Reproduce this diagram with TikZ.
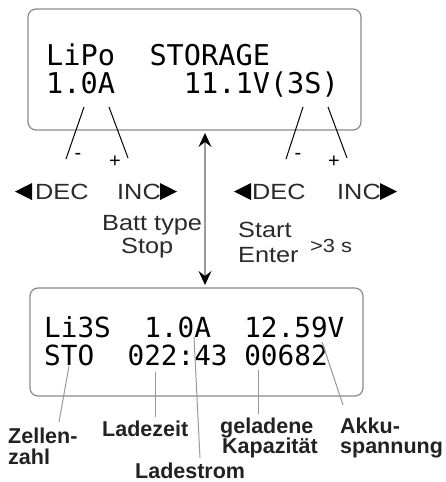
\documentclass[tikz,border=0pt]{standalone}
\usepackage{fontspec}
\setmainfont{Liberation Sans}
\newfontfamily\lcdfont{DejaVu Sans Mono}
\newfontfamily\wsans[FakeStretch=1.15]{Liberation Sans}
\newfontfamily\lblfont{Liberation Sans}
\usetikzlibrary{arrows.meta}
\definecolor{boxgray}{HTML}{8A8A8A}
\definecolor{txtgray}{HTML}{2A2A2A}
\definecolor{linegray}{HTML}{9A9A9A}
\definecolor{lblcol}{HTML}{222222}
\tikzset{
  lcdbox/.style={draw=boxgray, line width=1.2pt, rounded corners=8pt, inner sep=0pt},
  lcdtop/.style={anchor=base west, inner sep=0pt, font=\lcdfont\fontsize{28.6}{28.6}\selectfont},
  lcdbot/.style={anchor=base west, inner sep=0pt, font=\lcdfont\fontsize{27.7}{27.7}\selectfont},
  keytxt/.style={anchor=base west, inner sep=0pt, text=txtgray, font=\wsans\fontsize{22}{22}\selectfont},
  smalltxt/.style={anchor=base west, inner sep=0pt, text=txtgray, font=\wsans\fontsize{19}{19}\selectfont},
  signtxt/.style={inner sep=0pt, text=black, font=\fontsize{20}{20}\selectfont},
  lbl/.style={anchor=base west, inner sep=0pt, text=lblcol, font=\lblfont\bfseries\fontsize{21.5}{21.5}\selectfont},
  leadtop/.style={draw=black, line width=1pt},
  leadbot/.style={draw=linegray, line width=1pt},
  tri/.style={fill=black},
  dblarrow/.style={draw=linegray, line width=1.2pt,
    {Stealth[length=14pt,width=13pt,inset=5pt,color=black]}-{Stealth[length=14pt,width=13pt,inset=5pt,color=black]}}
}
\begin{document}
\begin{tikzpicture}[x=1pt,y=-1pt]
\useasboundingbox (0,0) rectangle (445,482);

% LCD boxes
\node[lcdbox, minimum width=333pt, minimum height=121pt] (boxtop) at (194.5,69.5) {};
\node[lcdbox, minimum width=333pt, minimum height=108pt] (boxbot) at (196.5,342) {};

% top LCD text
\node[lcdtop] (t1) at (46,65) {LiPo~~STORAGE};
\node[lcdtop] (t2) at (46,93) {1.0A~~~~11.1V(3S)};

% bottom LCD text
\node[lcdbot] (b1) at (44,337) {Li3S~~1.0A~~12.59V};
\node[lcdbot] (b2) at (44,365) {STO~~022:43~00682};

% +/- leaders on top box
\coordinate (lm0) at (84,107);  \coordinate (lm1) at (66,159);
\coordinate (lp0) at (109,107); \coordinate (lp1) at (128,158);
\coordinate (rm0) at (303,107); \coordinate (rm1) at (286,159);
\coordinate (rp0) at (328,107); \coordinate (rp1) at (347,158);
\draw[leadtop] (lm0) -- (lm1);
\draw[leadtop] (lp0) -- (lp1);
\draw[leadtop] (rm0) -- (rm1);
\draw[leadtop] (rp0) -- (rp1);
\node[signtxt] (lminus) at (78,156) {-};
\node[signtxt] (lplus) at (115,162) {+};
\node[signtxt] (rminus) at (298,156) {-};
\node[signtxt] (rplus) at (334,162) {+};

% key labels
\node[keytxt] (decL) at (35,199) {DEC};
\node[keytxt] (incL) at (117,199) {INC};
\node[keytxt] (decR) at (252,199) {DEC};
\node[keytxt] (incR) at (337,199) {INC};
\fill[tri] (15,191.5) -- (32,183) -- (32,200) -- cycle;
\fill[tri] (160,183) -- (160,200) -- (177,191.5) -- cycle;
\fill[tri] (234,191.5) -- (251,183) -- (251,200) -- cycle;
\fill[tri] (380,183) -- (380,200) -- (397,191.5) -- cycle;

\node[keytxt] (batt) at (102,230) {Batt type};
\node[keytxt] (stop) at (121,253) {Stop};
\node[keytxt] (start) at (238,237) {Start};
\node[keytxt] (enter) at (238,262) {Enter};
\node[smalltxt] (three) at (310,252) {>3 s};

% double arrow
\coordinate (aTop) at (205,133);
\coordinate (aBot) at (205,285);
\draw[dblarrow] (aTop) -- (aBot);

% bottom labels
\node[lbl] (zellen) at (8,443) {Zellen-};
\node[lbl] (zahl) at (8,464) {zahl};
\node[lbl] (ladezeit) at (102,436) {Ladezeit};
\node[lbl] (ladestrom) at (135,478) {Ladestrom};
\node[lbl] (geladene) at (220,433) {geladene};
\node[lbl] (kapaz) at (222,453) {Kapazität};
\node[lbl] (akku) at (340,433) {Akku-};
\node[lbl] (spann) at (340,453) {spannung};

% bottom leaders
\coordinate (z0) at (69,366);  \coordinate (z1) at (59,422);
\coordinate (lz0) at (155,372); \coordinate (lz1) at (155,417);
\coordinate (ls0) at (194,337); \coordinate (ls1) at (200,458);
\coordinate (gk0) at (258,370); \coordinate (gk1) at (258,414);
\coordinate (as0) at (322,342); \coordinate (as1) at (343,405);
\draw[leadbot] (z0) -- (z1);
\draw[leadbot] (lz0) -- (lz1);
\draw[leadbot] (ls0) -- (ls1);
\draw[leadbot] (gk0) -- (gk1);
\draw[leadbot] (as0) -- (as1);
\end{tikzpicture}
\end{document}
